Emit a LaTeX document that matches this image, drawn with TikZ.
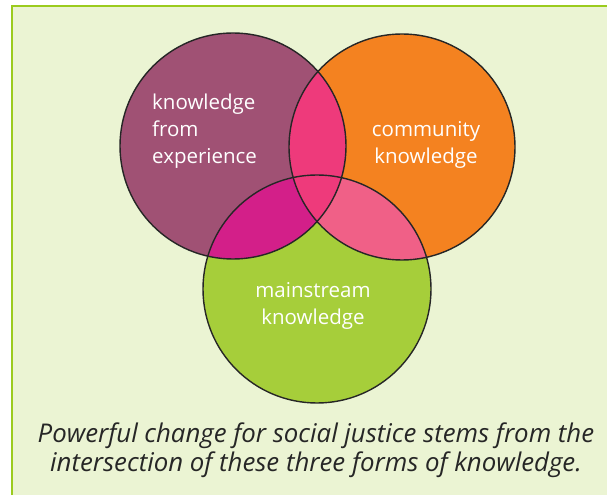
\documentclass[tikz,border=0pt]{standalone}
\usepackage{fontspec}
\setmainfont{Open Sans}
\definecolor{bgc}{HTML}{EBF4D3}
\definecolor{framec}{HTML}{9BCB1E}
\definecolor{purp}{HTML}{A05174}
\definecolor{oran}{HTML}{F48220}
\definecolor{gree}{HTML}{A6CE3A}
\definecolor{po}{HTML}{EE3A7B}
\definecolor{pg}{HTML}{D31F89}
\definecolor{og}{HTML}{F06087}
\begin{document}
\begin{tikzpicture}[x=1pt,y=1pt,
  ring/.style={draw=black!85,line width=1.4pt},
  lbl/.style={text=white,font=\fontsize{20.5}{27}\selectfont,inner sep=0pt},
  captxt/.style={text=black!85,font=\fontsize{25.8}{28.5}\selectfont\itshape,inner sep=0pt,align=center}]
\useasboundingbox (0,0) rectangle (607,495);
% background and frame
\fill[bgc] (12,0) rectangle (607,489);
\draw[framec,line width=2.3pt] (12.2,0) -- (12.2,488.8) -- (607,488.8);
% circles
\coordinate (P) at (233,349);
\coordinate (O) at (402,348);
\coordinate (G) at (317,206);
\fill[purp] (P) circle (113);
\fill[oran] (O) circle (113);
\fill[gree] (G) circle (114);
\begin{scope}
  \clip (P) circle (113);
  \fill[po] (O) circle (113);
  \fill[pg] (G) circle (114);
\end{scope}
\begin{scope}
  \clip (O) circle (113);
  \fill[og] (G) circle (114);
  \clip (P) circle (113);
  \fill[po] (G) circle (114);
\end{scope}
\draw[ring] (P) circle (113);
\draw[ring] (O) circle (113);
\draw[ring] (G) circle (114);
% labels
\node[lbl,align=left,anchor=west] (lp) at (152,364) {knowledge\\from\\experience};
\node[lbl,align=center] (lo) at (426,350) {community\\knowledge};
\node[lbl,align=center] (lg) at (313,189) {mainstream\\knowledge};
\node[captxt] (caption) at (316,45) {Powerful change for social justice stems from the\\intersection of these three forms of knowledge.};
\end{tikzpicture}
\end{document}
